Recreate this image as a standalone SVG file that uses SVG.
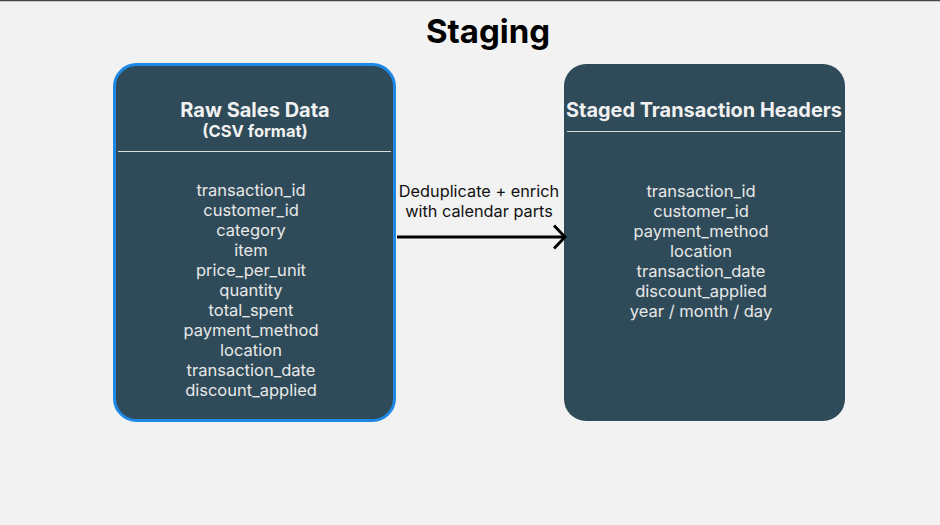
<svg xmlns="http://www.w3.org/2000/svg" width="940" height="525" viewBox="0 0 940 525">
<defs>
<style>
.bg{fill:#f2f2f2}
.box{fill:#2f4b59}
.sel{stroke:#1e88e5;stroke-width:3}
.hd{font-family:Inter,"Noto Sans",sans-serif;font-weight:700;fill:#f1f1f1;text-anchor:middle}
.it{font-family:Inter,"Noto Sans",sans-serif;font-size:16.5px;fill:#e8e8e8;text-anchor:middle}
.div{stroke:#d8dde0;stroke-width:1}
.lbl{font-family:Inter,"Noto Sans",sans-serif;font-size:16.3px;fill:#111;text-anchor:middle}
.edge{stroke:#000;stroke-width:3;fill:none}
</style>
<marker id="arr" viewBox="0 0 14 26" refX="12.5" refY="13" markerWidth="14" markerHeight="26" markerUnits="userSpaceOnUse" orient="auto">
<path d="M1.5,1.5 L12.5,13 L1.5,24.5" fill="none" stroke="#000" stroke-width="3"/>
</marker>
</defs>
<rect class="bg" x="0" y="0" width="940" height="525"/>
<line x1="0" y1="0.5" x2="940" y2="0.5" stroke="#444" stroke-width="1.5"/>
<text x="488" y="43" font-family="Inter,'Noto Sans',sans-serif" font-weight="700" font-size="33" text-anchor="middle" fill="#000">Staging</text>
<g id="raw">
<rect class="box sel" x="114.5" y="64.5" width="280" height="356" rx="22"/>
<text class="hd" x="255" y="117" font-size="20">Raw Sales Data</text>
<text class="hd" x="255" y="137" font-size="16.5">(CSV format)</text>
<line class="div" x1="118" y1="151.5" x2="391" y2="151.5"/>
<text class="it" x="251" y="196">transaction_id</text>
<text class="it" x="251" y="216">customer_id</text>
<text class="it" x="251" y="236">category</text>
<text class="it" x="251" y="256">item</text>
<text class="it" x="251" y="276">price_per_unit</text>
<text class="it" x="251" y="296">quantity</text>
<text class="it" x="251" y="316">total_spent</text>
<text class="it" x="251" y="336">payment_method</text>
<text class="it" x="251" y="356">location</text>
<text class="it" x="251" y="376">transaction_date</text>
<text class="it" x="251" y="396">discount_applied</text>
</g>
<g id="staged">
<rect class="box" x="564" y="64" width="281" height="357" rx="22"/>
<text class="hd" x="704" y="117" font-size="19.9">Staged Transaction Headers</text>
<line class="div" x1="567" y1="131.5" x2="841" y2="131.5"/>
<text class="it" x="701" y="197">transaction_id</text>
<text class="it" x="701" y="217">customer_id</text>
<text class="it" x="701" y="237">payment_method</text>
<text class="it" x="701" y="257">location</text>
<text class="it" x="701" y="277">transaction_date</text>
<text class="it" x="701" y="297">discount_applied</text>
<text class="it" x="701" y="317">year / month / day</text>
</g>
<g id="connectors">
<path class="edge" d="M397,237 L565,237" marker-end="url(#arr)"/>
<text class="lbl" x="479" y="197">Deduplicate + enrich</text>
<text class="lbl" x="479" y="217">with calendar parts</text>
</g>
</svg>
